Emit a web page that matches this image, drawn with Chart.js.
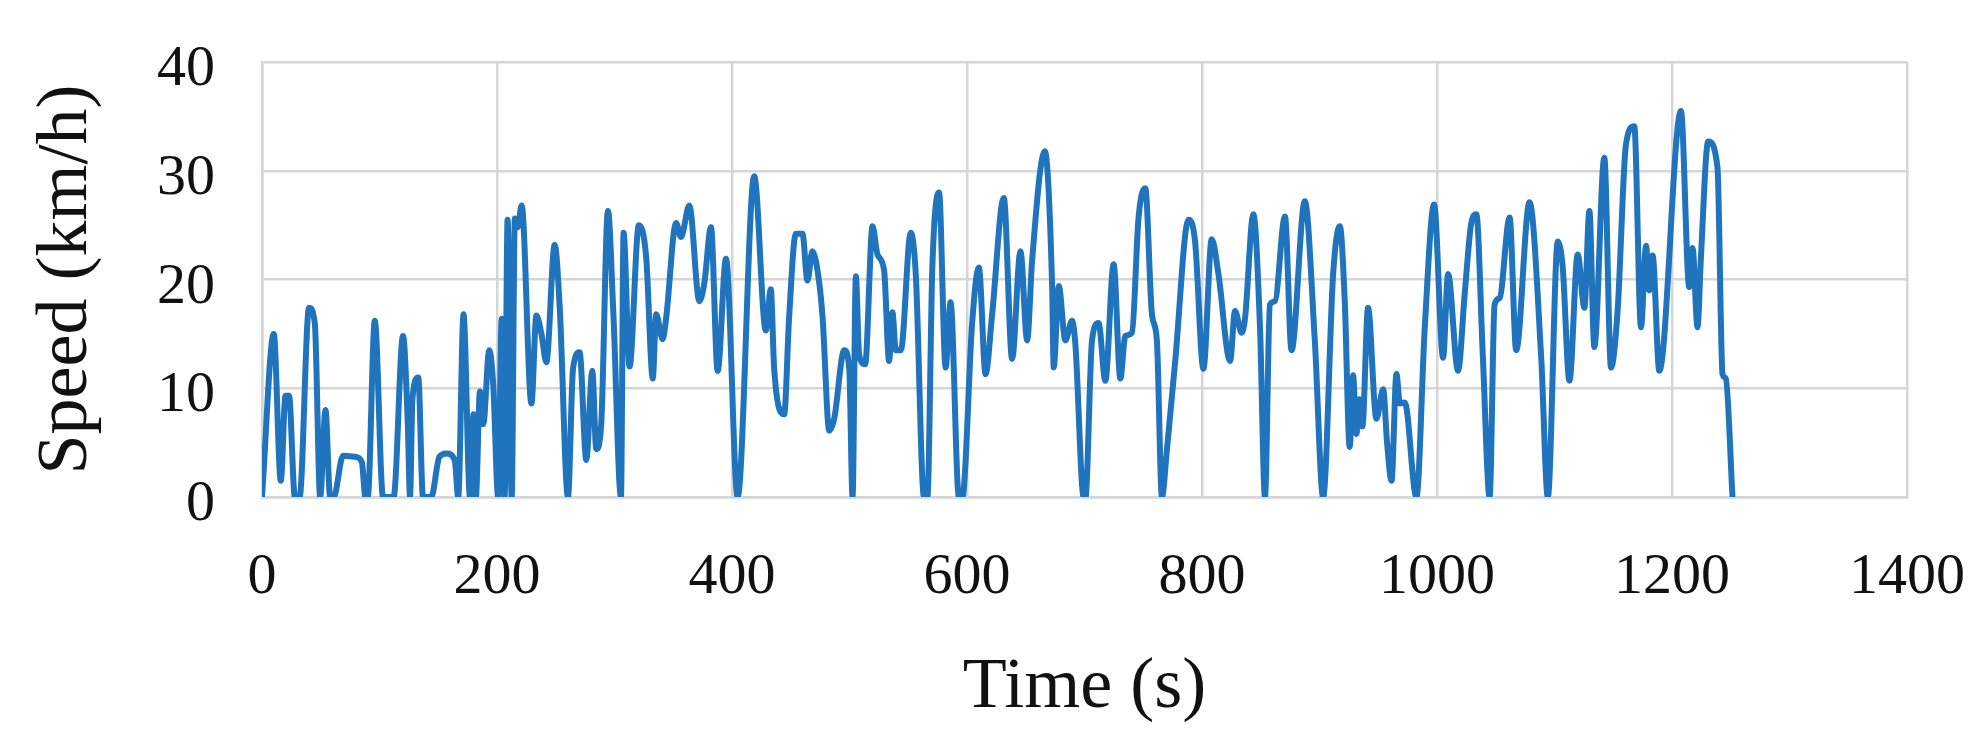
<!DOCTYPE html>
<html>
<head>
<meta charset="utf-8">
<script src="https://cdn.jsdelivr.net/npm/chart.js@4.4.0/dist/chart.umd.min.js"></script>
<style>
  html, body { margin: 0; padding: 0; background: #ffffff; }
  #wrap { width: 1981px; height: 751px; position: relative; }
</style>
</head>
<body>
<div id="wrap"><canvas id="c" width="1981" height="751"></canvas></div>
<script>
// Time (s) and speed (km/h)
const times = [
  0, 10, 16, 20, 23, 28, 32, 40, 45, 49.5, 54, 58, 61, 69, 79, 85, 88, 90, 96, 103,
  112, 120, 124, 126, 128, 133, 137, 144, 151, 157, 164, 167, 171.5, 177, 180, 182, 185.5, 188.3, 193.4, 196.8,
  201, 204, 206.5, 209, 212.5, 215.2, 217.5, 221, 229.3, 233.5, 237.8, 242, 249.1, 253.4, 260.4, 264.7, 270.3, 276, 281.1, 284.5,
  288.7, 294.4, 299, 305.5, 307.7, 312.8, 320.7, 327, 332.6, 335.4, 341, 344, 352.4, 356.6, 363.7, 372.2, 376.5, 382.1, 387.8, 394.9,
  404.8, 418.9, 428.8, 433, 435.9, 444.4, 448.6, 454.3, 460, 464.2, 468.4, 474, 477.1, 482.8, 487, 495.5, 499.8, 502.6, 505.4, 508.2,
  513.3, 519.6, 523.8, 529.5, 533.7, 536.5, 539.4, 543.7, 552.1, 556.4, 563.4, 566.3, 570.5, 576.2, 581.8, 586, 593.1, 596, 604.5, 610.1,
  615.8, 621.4, 631.3, 638.4, 645.5, 651.2, 655.4, 666.2, 672.4, 673.8, 678.1, 683.7, 689.4, 692.2, 699.3, 700.8, 706.4, 712, 717.7, 724.8,
  730.5, 734.7, 740.4, 746, 751.7, 757.4, 761.6, 765.9, 770.1, 777.2, 788.5, 794.1, 801.2, 808.3, 814, 823.9, 828.1, 833.8, 836.6, 843.7,
  849.4, 853.6, 857.8, 862, 870.6, 876.2, 887.5, 896, 903.1, 911.6, 917.3, 921.5, 925.7, 928.6, 931.4, 934, 936.5, 941.3, 948.4, 954.2,
  957.5, 961.3, 965.5, 968.4, 972.6, 982.5, 989.6, 997.5, 1005.2, 1009.4, 1017.9, 1023.6, 1029.2, 1033.5, 1039, 1044.8, 1049, 1053.3, 1061.8, 1067.4,
  1078.7, 1088.7, 1094.3, 1102.8, 1107, 1112.7, 1119.8, 1125.4, 1129.7, 1133.9, 1142.4, 1148.1, 1153.7, 1160.8, 1167.9, 1173.6, 1177.9, 1180.7, 1183.5, 1189.2,
  1207.6, 1214.7, 1217.5, 1221.7, 1224.6, 1230.8, 1238.7, 1243, 1245.8, 1251.5
];
const speeds = [
  0, 15, 1.5, 9.3, 9.3, 0, 0, 17.4, 15.9, 0, 8, 0, 0, 3.8, 3.7, 3.2, 0, 0, 16.2, 0,
  0, 14.8, 7, 0, 9, 11, 0, 0, 3.7, 4, 3.4, 0, 16.8, 0, 7.6, 0, 9.7, 6.7, 13.5, 10.3,
  0, 16.4, 0, 25.5, 0, 25.6, 24.8, 26.8, 8.6, 16.7, 15, 12.4, 23.2, 17.4, 0, 11.8, 13.3, 3.4, 11.6, 4.4,
  6.7, 26.3, 17, 0, 24.3, 12, 25, 22, 10.9, 16.8, 14.5, 16.5, 25.2, 23.9, 26.8, 18, 19.7, 24.8, 11.6, 21.9,
  0, 29.5, 15.3, 19.1, 11.8, 7.6, 16.5, 24.2, 24.2, 19.9, 22.6, 19.9, 16.5, 6.1, 7.2, 13.5, 11.8, 0, 20.3, 13.1,
  12.2, 24.9, 22.3, 20.8, 12.5, 17, 13.5, 13.5, 24.3, 20.5, 0, 0, 21.1, 28, 11.9, 17.9, 0, 0, 16.2, 21.1,
  11.3, 16.8, 27.5, 12.7, 22.6, 14.4, 21.7, 31.8, 19.6, 11.9, 19.4, 14.4, 16.2, 14.1, 0, 0, 14.4, 16, 10.7, 21.4,
  10.9, 14.8, 15.1, 25.7, 28.4, 16.8, 14.4, 0, 4.3, 12.5, 25.5, 23.5, 11.8, 23.7, 20.5, 12.5, 17.1, 15.1, 16.4, 26,
  15.5, 0, 17.7, 18, 25.8, 13.5, 27.2, 14.4, 0, 20.5, 24.9, 18, 4.6, 11.2, 5.8, 9, 6.5, 17.4, 7.2, 9.9,
  5, 1.5, 11.3, 8.6, 8.7, 0, 15.6, 26.9, 12.8, 20.5, 11.6, 18.7, 25.2, 26, 13, 0, 17.7, 18.3, 25.7, 13.5,
  27.1, 12.8, 0, 23.5, 21.1, 10.7, 22.3, 17.4, 26.3, 13.8, 31.2, 11.9, 17.1, 32.4, 34.1, 15.6, 23.1, 19, 22.2, 11.6,
  35.5, 19.3, 22.9, 15.6, 22, 32.7, 30.3, 11.3, 10.9, 0
];
const xTicks = [0, 200, 400, 600, 800, 1000, 1200, 1400];
const yTicks = [0, 10, 20, 30, 40];
const xTitle = 'Time (s)';
const yTitle = 'Speed (km/h)';

const points = times.map((t, i) => ({ x: t, y: speeds[i] }));
const gridColor = '#d6d6d6';
const serif = "'Liberation Serif', 'DejaVu Serif', serif";
Chart.defaults.font.family = serif;
Chart.defaults.color = '#111111';

new Chart(document.getElementById('c'), {
  type: 'line',
  data: {
    datasets: [{
      data: points,
      borderColor: '#1f74bd',
      borderWidth: 6,
      pointRadius: 0,
      fill: false,
      cubicInterpolationMode: 'monotone',
      borderJoinStyle: 'round',
      borderCapStyle: 'round'
    }]
  },
  options: {
    responsive: false,
    animation: false,
    devicePixelRatio: 1,
    layout: { padding: { left: 0, right: 74, top: 62, bottom: 0 } },
    plugins: { legend: { display: false }, tooltip: { enabled: false } },
    scales: {
      x: {
        type: 'linear',
        min: xTicks[0],
        max: xTicks[xTicks.length - 1],
        afterBuildTicks: (s) => { s.ticks = xTicks.map(v => ({ value: v })); },
        afterFit: (s) => { s.height = 254; s.paddingLeft = 0; s.paddingRight = 0; },
        ticks: {
          autoSkip: false, maxRotation: 0, padding: 46,
          callback: (v) => String(v),
          font: { size: 58, family: serif }, color: '#111111'
        },
        grid: { color: gridColor, lineWidth: 2.5, drawTicks: false },
        border: { display: true, color: gridColor, width: 2.5 },
        title: {
          display: true, text: xTitle,
          font: { size: 72, family: serif }, color: '#111111',
          padding: { top: 0, bottom: 20 }
        }
      },
      y: {
        type: 'linear',
        min: yTicks[0],
        max: yTicks[yTicks.length - 1],
        afterBuildTicks: (s) => { s.ticks = yTicks.map(v => ({ value: v })); },
        afterFit: (s) => { s.width = 262; s.paddingTop = 0; s.paddingBottom = 0; },
        ticks: {
          padding: 47, labelOffset: 8,
          callback: (v) => String(v),
          font: { size: 58, family: serif }, color: '#111111'
        },
        grid: { color: gridColor, lineWidth: 2.5, drawTicks: false },
        border: { display: true, color: gridColor, width: 2.5 },
        title: {
          display: true, text: yTitle,
          font: { size: 72, family: serif }, color: '#111111',
          padding: { top: 24, bottom: 0 }
        }
      }
    }
  }
});
</script>
</body>
</html>
